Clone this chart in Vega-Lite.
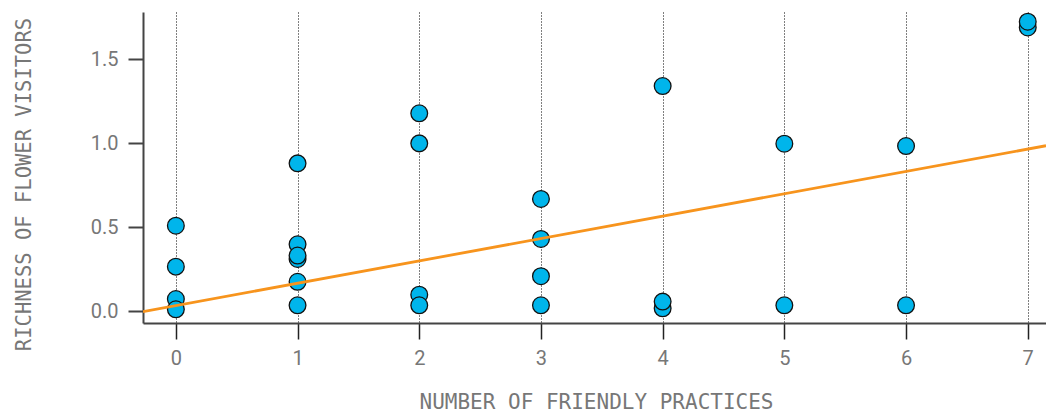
{
  "$schema": "https://vega.github.io/schema/vega-lite/v6.json",
  "width": 903,
  "height": 311,
  "autosize": "none",
  "padding": {"left": 143, "top": 12, "right": 0, "bottom": 89},
  "background": "white",
  "config": {
    "view": {"stroke": null},
    "font": "DejaVu Sans Mono"
  },
  "datasets": {
    "points": [
      {"practices": 0, "richness": 0.508},
      {"practices": 0, "richness": 0.264},
      {"practices": 0, "richness": 0.071},
      {"practices": 0, "richness": 0.010},
      {"practices": 1, "richness": 0.879},
      {"practices": 1, "richness": 0.397},
      {"practices": 1, "richness": 0.310},
      {"practices": 1, "richness": 0.330},
      {"practices": 1, "richness": 0.174},
      {"practices": 1, "richness": 0.034},
      {"practices": 2, "richness": 1.177},
      {"practices": 2, "richness": 0.998},
      {"practices": 2, "richness": 0.097},
      {"practices": 2, "richness": 0.034},
      {"practices": 3, "richness": 0.667},
      {"practices": 3, "richness": 0.429},
      {"practices": 3, "richness": 0.207},
      {"practices": 3, "richness": 0.034},
      {"practices": 4, "richness": 1.339},
      {"practices": 4, "richness": 0.016},
      {"practices": 4, "richness": 0.056},
      {"practices": 5, "richness": 0.996},
      {"practices": 5, "richness": 0.034},
      {"practices": 6, "richness": 0.982},
      {"practices": 6, "richness": 0.034},
      {"practices": 7, "richness": 1.688},
      {"practices": 7, "richness": 1.722}
    ],
    "fit": [
      {"practices": -0.27, "richness": -0.004},
      {"practices": 7.15, "richness": 0.984}
    ]
  },
  "layer": [
    {
      "data": {"name": "points"},
      "mark": {"type": "point", "shape": "circle", "filled": true, "size": 280, "fill": "#00b5eb", "stroke": "#111111", "strokeWidth": 1.3, "opacity": 1},
      "encoding": {
        "x": {
          "field": "practices", "type": "quantitative",
          "scale": {"domain": [-0.27, 7.15], "nice": false, "zero": false},
          "axis": {
            "title": "NUMBER OF FRIENDLY PRACTICES",
            "values": [0, 1, 2, 3, 4, 5, 6, 7],
            "format": "d",
            "grid": true, "gridColor": "#000000", "gridDash": [1, 2], "gridWidth": 1, "gridOpacity": 1,
            "domainColor": "#444444", "domainWidth": 2,
            "tickColor": "#222222", "tickSize": 16, "tickWidth": 1.5,
            "labelColor": "#777777", "labelFontSize": 20, "labelPadding": 9, "labelFont": "Liberation Sans Narrow, Roboto",
            "titleColor": "#777777", "titleFontSize": 21, "titleFontWeight": "normal", "titleFont": "DejaVu Sans Mono",
            "titleBaseline": "alphabetic", "titleY": 85, "titleX": 453
          }
        },
        "y": {
          "field": "richness", "type": "quantitative",
          "scale": {"domain": [-0.0714, 1.78], "nice": false, "zero": false},
          "axis": {
            "title": "RICHNESS OF FLOWER VISITORS",
            "values": [0, 0.5, 1, 1.5],
            "format": ".1f",
            "grid": false,
            "domainColor": "#444444", "domainWidth": 2,
            "tickColor": "#444444", "tickSize": 15, "tickWidth": 2,
            "labelColor": "#777777", "labelFontSize": 20, "labelPadding": 10, "labelFont": "Liberation Sans Narrow, Roboto",
            "titleColor": "#777777", "titleFontSize": 20.5, "titleFontWeight": "normal", "titleFont": "DejaVu Sans Mono",
            "titleBaseline": "alphabetic", "titleX": -113, "titleY": 172
          }
        }
      }
    },
    {
      "data": {"name": "fit"},
      "mark": {"type": "line", "color": "#f7941d", "strokeWidth": 2.8, "clip": true},
      "encoding": {
        "x": {"field": "practices", "type": "quantitative"},
        "y": {"field": "richness", "type": "quantitative"}
      }
    }
  ]
}
